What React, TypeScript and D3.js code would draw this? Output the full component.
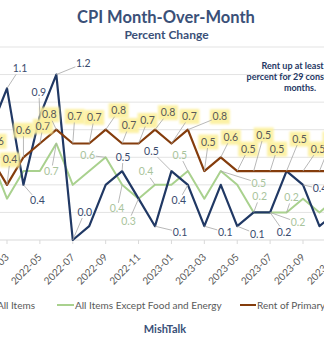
import React from 'react';
import * as d3 from 'd3';

const months = [
  '2022-02', '2022-03', '2022-04', '2022-05', '2022-06', '2022-07', '2022-08', '2022-09',
  '2022-10', '2022-11', '2022-12', '2023-01', '2023-02', '2023-03', '2023-04', '2023-05',
  '2023-06', '2023-07', '2023-08', '2023-09', '2023-10', '2023-11',
];
const allItems = [0.8, 1.1, 0.4, 0.9, 1.2, 0.0, 0.1, 0.4, 0.5, 0.3, 0.1, 0.5, 0.4, 0.1, 0.4, 0.1, 0.2, 0.2, 0.5, 0.4, 0.1, 0.2];
const coreItems = [0.6, 0.3, 0.5, 0.5, 0.7, 0.4, 0.5, 0.6, 0.4, 0.3, 0.4, 0.4, 0.5, 0.3, 0.5, 0.4, 0.2, 0.2, 0.2, 0.3, 0.2, 0.3];
const rentItems = [0.6, 0.4, 0.6, 0.7, 0.8, 0.7, 0.7, 0.8, 0.7, 0.7, 0.8, 0.7, 0.8, 0.5, 0.6, 0.5, 0.5, 0.5, 0.5, 0.5, 0.5, 0.5];
const tickLabels = ['2022-03', '2022-05', '2022-07', '2022-09', '2022-11', '2023-01', '2023-03', '2023-05', '2023-07', '2023-09', '2023-11'];
const gridValues = [0.2, 0.4, 0.6, 0.8, 1.0, 1.2, 1.4];
const seriesNames = ['All Items', 'All Items Except Food and Energy', 'Rent of Primary Residence'];
const title = 'CPI Month-Over-Month';
const subtitle = 'Percent Change';
const noteLines = ['Rent up at least 0.5', 'percent for 29 consecutive', 'months.'];
const source = 'MishTalk';

// label placement: [month index, dx, dy] offsets of label centre from its point
const allLabelPos = [
  [1, 13, -20], [2, 14, 16], [3, -1, -24], [4, 27, -11], [5, 12, -28], [8, 1, -14],
  [10, 25, 6], [11, -20, -20], [12, -9, 16], [13, 21, 6], [15, 20, 8], [17, 14, 20], [19, 17, 4],
];
const coreLabelPos = [
  [4, -5, 28], [7, -18, -2], [8, -5, 24], [9, -10, 23], [10, -9, -13], [12, -8, -16],
  [14, 38, 12], [16, 6, -16], [17, 28, 10], [18, 5, -15],
];
const rentLabelPos = [
  [0, 6, -16], [1, 3, -25], [2, 0, -27], [3, 3, -17], [4, -7, -15], [5, 2, -27], [6, 5, -26],
  [7, 13, -19], [8, 7, -18], [9, 9, -23], [10, 13, -17], [11, 18, -27], [12, 32, -13],
  [13, 4, -29], [14, 10, -20], [15, 11, -22], [16, 10, -36], [17, 7, -22], [18, 13, -32],
  [19, 15, -22], [20, 13, -32],
];

const W = 324;
const H = 348;
const NAVY = '#203864';
const GREEN = '#a9d18e';
const BROWN = '#843c0c';
const FONT = 'Lato, Carlito, Calibri, sans-serif';

const x = d3.scaleLinear().domain([1, 19]).range([7, 303]);
const y = d3.scaleLinear().domain([0, 1.4]).range([240, 47]);

function leader(px: number, py: number, cx: number, cy: number, hw: number, hh: number) {
  const dx = px - cx;
  const dy = py - cy;
  if (Math.abs(dx) <= hw + 2 && Math.abs(dy) <= hh + 2) return null;
  const t = Math.min(dx === 0 ? Infinity : hw / Math.abs(dx), dy === 0 ? Infinity : hh / Math.abs(dy));
  return { x1: cx + dx * t, y1: cy + dy * t, x2: px, y2: py };
}

function Labels({ values, pos, color, yellow }: { values: number[]; pos: number[][]; color: string; yellow?: boolean }) {
  return (
    <g>
      {pos.map(([i, dx, dy]) => {
        const px = x(i);
        const py = y(values[i]);
        const cx = px + dx;
        const cy = py + dy;
        const ld = leader(px, py, cx, cy, 8, 6);
        return (
          <g key={i}>
            {yellow && (
              <rect x={cx - 10} y={cy - 7.5} width={20} height={15} fill="#fcf09c" opacity={0.9} filter="url(#soft)" />
            )}
            {ld && <line {...ld} stroke="#a6a6a6" strokeWidth={0.8} />}
            <text x={cx} y={cy + 3.6} textAnchor="middle" fontSize={10.5} fontFamily={FONT} fill={color}>
              {values[i].toFixed(1)}
            </text>
          </g>
        );
      })}
    </g>
  );
}

export default function App() {
  const line = d3
    .line<number>()
    .x((_, i) => x(i))
    .y((d) => y(d));
  const tickIdx = tickLabels.map((t) => months.indexOf(t));

  return (
    <svg
      width={W}
      height={H}
      viewBox={`0 0 ${W} ${H}`}
      style={{ position: 'absolute', left: 0, top: 0, background: '#fff', display: 'block' }}
    >
      <defs>
        <filter id="soft" x="-30%" y="-30%" width="160%" height="160%">
          <feGaussianBlur stdDeviation="1.3" />
        </filter>
      </defs>
      <rect x={0} y={0} width={W} height={H} fill="#fff" />
      <text x={166} y={23} textAnchor="middle" fontSize={16.5} fontWeight="bold" fontFamily={FONT} fill="#3a5078">
        {title}
      </text>
      <text x={166.5} y={38.5} textAnchor="middle" fontSize={12} fontWeight="bold" fontFamily={FONT} fill="#3a5078">
        {subtitle}
      </text>

      {gridValues.map((v) => (
        <line key={v} x1={0} x2={W} y1={y(v)} y2={y(v)} stroke="#e3e3e3" strokeWidth={1} />
      ))}
      <line x1={0} x2={W} y1={y(0)} y2={y(0)} stroke="#d9d9d9" strokeWidth={1} />
      {tickIdx.map((i) => (
        <line key={i} x1={x(i)} x2={x(i)} y1={y(0)} y2={y(0) + 4} stroke="#d9d9d9" strokeWidth={1} />
      ))}
      {tickIdx.map((i, k) => (
        <text
          key={i}
          transform={`translate(${x(i) + 2.5},${y(0) + 18}) rotate(-45)`}
          textAnchor="end"
          fontSize={10}
          fontFamily={FONT}
          fill="#595959"
        >
          {tickLabels[k]}
        </text>
      ))}

      <path d={line(coreItems) || ''} fill="none" stroke={GREEN} strokeWidth={2} strokeLinejoin="round" />
      <path d={line(allItems) || ''} fill="none" stroke={NAVY} strokeWidth={2.2} strokeLinejoin="round" />
      <path d={line(rentItems) || ''} fill="none" stroke={BROWN} strokeWidth={2.2} strokeLinejoin="round" />

      <Labels values={rentItems} pos={rentLabelPos} color="#595959" yellow />
      <Labels values={coreItems} pos={coreLabelPos} color="#a9c49c" />
      <Labels values={allItems} pos={allLabelPos} color="#3a4b6e" />

      {noteLines.map((t, k) => (
        <text
          key={k}
          x={300}
          y={69 + k * 11}
          textAnchor="middle"
          fontSize={9}
          fontWeight="bold"
          fontFamily={FONT}
          fill="#1f3864"
        >
          {t}
        </text>
      ))}

      <g fontFamily={FONT} fontSize={10} fill="#595959">
        <line x1={-30} x2={-14} y1={305} y2={305} stroke={NAVY} strokeWidth={2} />
        <text x={35} y={308.5} textAnchor="end">{seriesNames[0]}</text>
        <line x1={57} x2={74} y1={305} y2={305} stroke={GREEN} strokeWidth={2} />
        <text x={75} y={308.5}>{seriesNames[1]}</text>
        <line x1={240} x2={256} y1={305} y2={305} stroke={BROWN} strokeWidth={2} />
        <text x={257} y={308.5}>{seriesNames[2]}</text>
      </g>
      <text x={165} y={333} textAnchor="middle" fontSize={11} fontWeight="bold" fontFamily={FONT} fill="#3a5078">
        {source}
      </text>
    </svg>
  );
}
